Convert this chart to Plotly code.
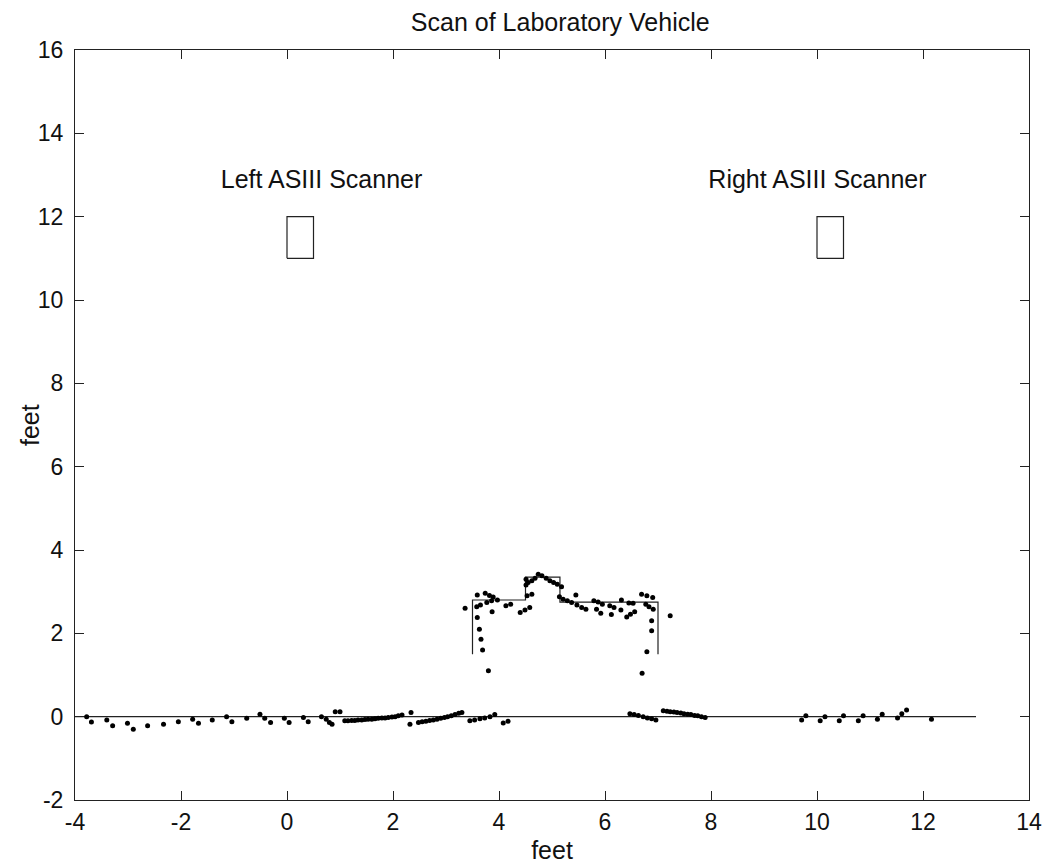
import plotly.graph_objects as go

# ---- data ----
title_text = "Scan of Laboratory Vehicle"

x_tick_vals = [-4, -2, 0, 2, 4, 6, 8, 10, 12, 14]
x_tick_text = ["-4", "-2", "0", "2", "4", "6", "8", "10", "12", "14"]
y_tick_vals = [-2, 0, 2, 4, 6, 8, 10, 12, 14, 16]
y_tick_text = ["-2", "0", "2", "4", "6", "8", "10", "12", "14", "16"]

# ground reference line
ground_x = [-4, 13]
ground_y = [0, 0]

# vehicle profile outline
outline_x = [3.5, 3.5, 4.5, 4.5, 5.15, 5.15, 7.0, 7.0]
outline_y = [1.5, 2.8, 2.8, 3.35, 3.35, 2.75, 2.75, 1.5]

# scanner boxes
left_box_x = [0, 0.5, 0.5, 0, 0]
left_box_y = [11, 11, 12, 12, 11]
right_box_x = [10, 10.5, 10.5, 10, 10]
right_box_y = [11, 11, 12, 12, 11]

# scan points: ground
ground_pts_x = [-3.78, -3.69, -3.40, -3.29, -3.01, -2.90, -2.63, -2.33, -2.05, -1.78,
                -1.67, -1.41, -1.14, -1.04, -0.76, -0.51, -0.42, -0.31, -0.05, 0.04,
                0.31, 0.40, 0.65, 0.74, 0.80, 0.85, 0.91, 1.00,
                1.09, 1.15, 1.22, 1.28, 1.34, 1.41, 1.47, 1.53, 1.60, 1.66, 1.72, 1.79,
                1.85, 1.91, 1.98, 2.04, 2.10, 2.17,
                2.34, 2.32,
                2.48, 2.55, 2.62, 2.69, 2.76, 2.83, 2.90, 2.97, 3.03, 3.10, 3.17, 3.24, 3.30,
                3.45, 3.54, 3.64, 3.73, 3.83, 3.92,
                4.08, 4.17,
                6.47, 6.55, 6.63, 6.72, 6.80, 6.88, 6.96,
                7.10, 7.17, 7.23, 7.30, 7.36, 7.43, 7.49, 7.56, 7.62, 7.69, 7.75, 7.82, 7.89,
                9.71, 9.79, 10.06, 10.15, 10.42, 10.50, 10.78, 10.87, 11.14, 11.23,
                11.52, 11.60, 11.69, 12.16]
ground_pts_y = [0.00, -0.13, -0.08, -0.22, -0.16, -0.30, -0.22, -0.18, -0.12, -0.06,
                -0.16, -0.08, 0.00, -0.12, -0.04, 0.06, -0.04, -0.14, -0.04, -0.14,
                -0.02, -0.12, 0.00, -0.06, -0.14, -0.18, 0.12, 0.12,
                -0.10, -0.10, -0.09, -0.09, -0.08, -0.08, -0.07, -0.06, -0.06, -0.05, -0.04, -0.03,
                -0.03, -0.02, -0.01, 0.00, 0.02, 0.04,
                0.10, -0.18,
                -0.14, -0.12, -0.11, -0.09, -0.08, -0.06, -0.04, -0.02, 0.00, 0.02, 0.05, 0.08, 0.10,
                -0.10, -0.08, -0.05, -0.03, 0.00, 0.05,
                -0.15, -0.11,
                0.07, 0.05, 0.03, 0.00, -0.03, -0.05, -0.08,
                0.14, 0.13, 0.12, 0.11, 0.10, 0.09, 0.07, 0.06, 0.05, 0.03, 0.02, 0.00, -0.02,
                -0.08, 0.02, -0.10, 0.00, -0.10, 0.02, -0.10, 0.02, -0.06, 0.06,
                -0.03, 0.07, 0.16, -0.06]

# scan points: vehicle
vehicle_pts_x = [3.36, 3.59, 3.58, 3.65, 3.59, 3.63, 3.66, 3.69, 3.80,
                 3.74, 3.82, 3.89, 3.97, 3.77, 3.86, 3.87,
                 4.13, 4.22, 4.40, 4.49, 4.58, 4.53, 4.62,
                 4.51, 4.51, 4.55, 4.62, 4.68, 4.74, 4.81, 4.89, 4.96, 5.03, 5.10, 5.18,
                 5.14, 5.21, 5.29, 5.37, 5.47, 5.56, 5.64, 5.45,
                 5.79, 5.87, 5.95, 5.84, 5.92, 6.09, 6.17, 6.12,
                 6.31, 6.30, 6.45, 6.53, 6.41, 6.48, 6.56,
                 6.69, 6.79, 6.90, 6.77, 6.83, 6.91, 6.88, 6.88, 6.79, 6.70, 7.23]
vehicle_pts_y = [2.60, 2.92, 2.64, 2.68, 2.38, 2.10, 1.86, 1.60, 1.10,
                 2.96, 2.91, 2.87, 2.80, 2.74, 2.78, 2.52,
                 2.66, 2.70, 2.50, 2.56, 2.62, 2.90, 2.94,
                 3.16, 3.30, 3.22, 3.26, 3.32, 3.42, 3.38, 3.32, 3.26, 3.22, 3.18, 3.12,
                 2.88, 2.82, 2.78, 2.74, 2.68, 2.62, 2.58, 2.92,
                 2.78, 2.75, 2.70, 2.58, 2.48, 2.66, 2.62, 2.45,
                 2.80, 2.56, 2.73, 2.72, 2.39, 2.46, 2.52,
                 2.94, 2.90, 2.86, 2.70, 2.64, 2.58, 2.30, 2.06, 1.56, 1.04, 2.42]

label_text = ["Left ASIII Scanner", "Right ASIII Scanner"]
label_x = [-1.25, 7.95]
label_y = [12.85, 12.85]

# ---- figure ----
FONT = "Liberation Sans, Arial, Helvetica, sans-serif"
line_col = "#222222"

fig = go.Figure()
fig.add_trace(go.Scatter(x=ground_x, y=ground_y, mode="lines",
                         line=dict(color=line_col, width=1.2), hoverinfo="skip"))
fig.add_trace(go.Scatter(x=outline_x, y=outline_y, mode="lines",
                         line=dict(color=line_col, width=1.2), hoverinfo="skip"))
fig.add_trace(go.Scatter(x=left_box_x, y=left_box_y, mode="lines",
                         line=dict(color=line_col, width=1.2), hoverinfo="skip"))
fig.add_trace(go.Scatter(x=right_box_x, y=right_box_y, mode="lines",
                         line=dict(color=line_col, width=1.2), hoverinfo="skip"))
fig.add_trace(go.Scatter(x=ground_pts_x, y=ground_pts_y, mode="markers",
                         marker=dict(color="black", size=5)))
fig.add_trace(go.Scatter(x=vehicle_pts_x, y=vehicle_pts_y, mode="markers",
                         marker=dict(color="black", size=5)))
fig.add_trace(go.Scatter(x=label_x, y=label_y, mode="text", text=label_text,
                         textposition="middle right",
                         textfont=dict(family=FONT, size=25, color="#111111"),
                         hoverinfo="skip"))

axis_common = dict(
    showgrid=False, zeroline=False, showline=True, linecolor="#222222", linewidth=1,
    mirror="ticks", ticks="inside", ticklen=9, tickwidth=1, tickcolor="#222222",
    tickfont=dict(family=FONT, size=23, color="#111111"),
    title_font=dict(family=FONT, size=25, color="#111111"),
    automargin=False,
)

fig.update_layout(
    width=1058, height=865,
    margin=dict(l=67, r=37, t=42, b=73),
    paper_bgcolor="white", plot_bgcolor="white",
    showlegend=False,
    title=dict(text=title_text, x=0.522, xanchor="center", y=0.984, yanchor="middle",
               yref="container", font=dict(family=FONT, size=25, color="#111111"),
               automargin=False),
    xaxis=dict(range=[-4, 14], tickvals=x_tick_vals, ticktext=x_tick_text,
               title=dict(text="feet", standoff=7), ticklabelstandoff=1, **axis_common),
    yaxis=dict(range=[-2, 16], tickvals=y_tick_vals, ticktext=y_tick_text,
               ticklabelstandoff=6, **axis_common),
    annotations=[dict(text="feet", textangle=-90, xref="paper", yref="paper",
                      x=0, y=0.5, xanchor="center", yanchor="middle", xshift=-45,
                      showarrow=False, font=dict(family=FONT, size=25, color="#111111"))],
)

fig.write_html("out.html")
